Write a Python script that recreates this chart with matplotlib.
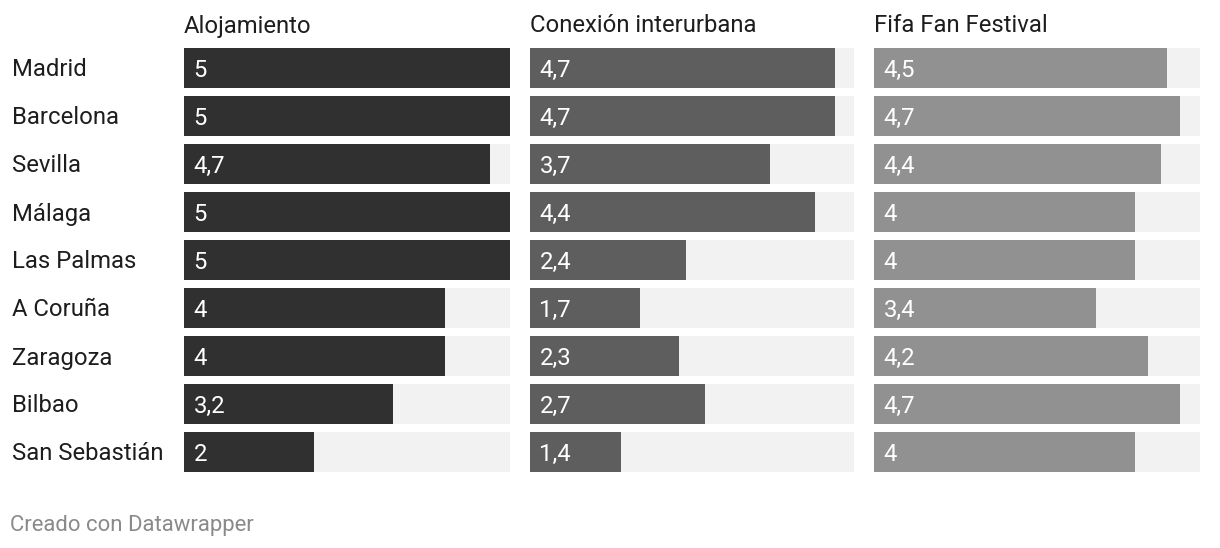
import matplotlib
matplotlib.use("Agg")
import matplotlib.pyplot as plt

cities = ["Madrid", "Barcelona", "Sevilla", "Málaga", "Las Palmas", "A Coruña",
          "Zaragoza", "Bilbao", "San Sebastián"]
headers = ["Alojamiento", "Conexión interurbana", "Fifa Fan Festival"]
alojamiento = [5, 5, 4.7, 5, 5, 4, 4, 3.2, 2]
conexion = [4.7, 4.7, 3.7, 4.4, 2.4, 1.7, 2.3, 2.7, 1.4]
fanfest = [4.5, 4.7, 4.4, 4, 4, 3.4, 4.2, 4.7, 4]
series = [alojamiento, conexion, fanfest]
colors = ["#303030", "#5e5e5e", "#919191"]
bg_color = "#f2f2f2"
max_val = 5

plt.rcParams['font.family'] = ['Roboto', 'DejaVu Sans']

W, H = 1220, 548
fig = plt.figure(figsize=(W / 100, H / 100), dpi=100)

cols = [(184, 510), (530, 854), (874, 1200)]
top, bottom = 44, 476
n = len(cities)
FS = 17.2

def fx(px):
    return px / W

def fy(py):
    return 1 - py / H

def fmt(v):
    s = f"{v:g}"
    return s.replace(".", ",")

for i, ((x0, x1), vals, col, head) in enumerate(zip(cols, series, colors, headers)):
    ax = fig.add_axes([fx(x0), fy(bottom), (x1 - x0) / W, (bottom - top) / H])
    ypos = list(range(n))
    ax.barh(ypos, [max_val] * n, height=40 / 48, color=bg_color, left=0)
    ax.barh(ypos, vals, height=40 / 48, color=col, left=0)
    ax.set_xlim(0, max_val)
    ax.set_ylim(n - 0.5, -0.5)
    ax.axis("off")
    for y, v in zip(ypos, vals):
        ax.annotate(fmt(v), xy=(0, y), xytext=(6.8, -1.5), textcoords="offset points",
                    ha="left", va="center", color="white", fontsize=FS)
    fig.text(fx(x0), fy(26), head, ha="left", va="center", fontsize=FS, color="#1d1d1d")

for k, c in enumerate(cities):
    fig.text(fx(12), fy(70 + 48 * k), c, ha="left", va="center", fontsize=FS, color="#1d1d1d")

fig.text(fx(10), fy(526), "Creado con Datawrapper", ha="left", va="center",
         fontsize=15.9, color="#8a8a8a")

fig.savefig("out.png", dpi=100, facecolor="white")
